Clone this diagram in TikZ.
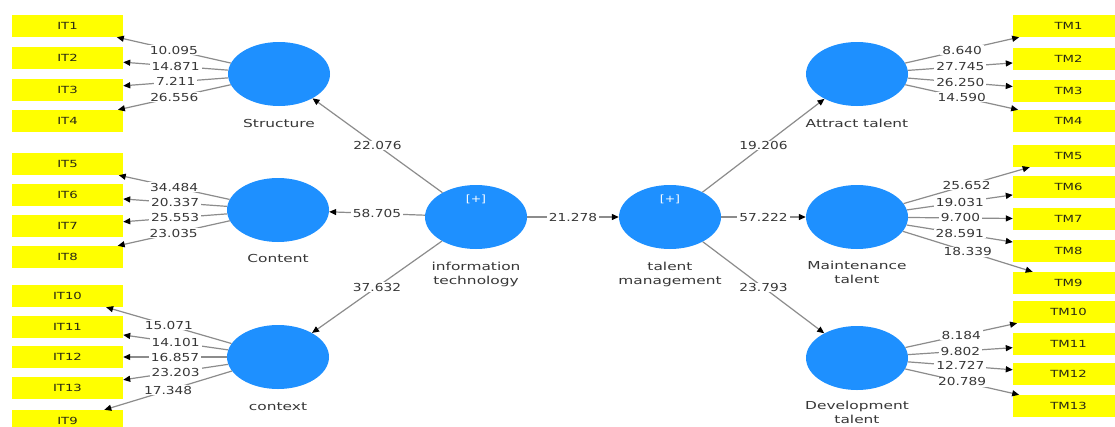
\documentclass[tikz,border=0pt]{standalone}
\usepackage{fontspec}
\setmainfont{DejaVu Sans}
\newfontfamily\numfont[FakeStretch=1.25]{DejaVu Sans}
\newfontfamily\namefont[FakeStretch=1.4]{DejaVu Sans}
\newfontfamily\boxfont[FakeStretch=1.35]{DejaVu Sans}
\usetikzlibrary{arrows.meta,shapes.geometric}
\definecolor{lvblue}{RGB}{30,144,255}
\definecolor{indyellow}{RGB}{255,255,0}
\definecolor{linegray}{RGB}{140,140,140}
\definecolor{txtgray}{RGB}{55,55,55}
\definecolor{boxtext}{RGB}{40,40,20}

\begin{document}
\begin{tikzpicture}[x=1pt,y=-1pt,
  latent/.style={ellipse, fill=lvblue, minimum width=102pt, minimum height=64pt, inner sep=0pt},
  indicator/.style={rectangle, fill=indyellow, minimum width=111pt, minimum height=22pt,
    inner sep=0pt, font=\boxfont\fontsize{9.8}{11}\selectfont, text=boxtext},
  conn/.style={draw=linegray, line width=1.2pt,
    -{Triangle[length=7pt,width=6pt,color=black]}},
  coef/.style={fill=white, inner xsep=2pt, inner ysep=0.8pt,
    font=\numfont\fontsize{11}{12}\selectfont, text=txtgray},
  lvname/.style={font=\namefont\fontsize{11}{14}\selectfont, text=txtgray, align=center},
  plus/.style={text=white, font=\numfont\fontsize{10}{11}\selectfont}]

\fill[white] (0,0) rectangle (1115,426);
\useasboundingbox (0,0) rectangle (1115,426);

% indicator boxes, left column
\foreach \n/\y in {IT1/26, IT2/58, IT3/90, IT4/121, IT5/164, IT6/195, IT7/226, IT8/257,
                   IT10/296, IT11/327, IT12/357, IT13/388, IT9/421}
  \node[indicator] (\n) at (67.5,\y) {\n};

% indicator boxes, right column
\foreach \n/\y in {TM1/26, TM2/59, TM3/91, TM4/121, TM5/156, TM6/187, TM7/219, TM8/251,
                   TM9/283, TM10/312, TM11/344, TM12/374, TM13/406}
  \node[indicator] (\n) at (1068.5,\y) {\n};

% latent variables
\node[latent] (S)  at (279,74)  {};
\node[latent] (C)  at (278,210) {};
\node[latent] (X)  at (278,357) {};
\node[latent] (IT) at (476,217) {};
\node[latent] (TM) at (670,217) {};
\node[latent] (AT) at (857,74)  {};
\node[latent] (MT) at (857,217) {};
\node[latent] (DT) at (857,358) {};

\node[plus] (ITplus) at (476,199) {[+]};
\node[plus] (TMplus) at (670,199) {[+]};

% latent variable names
\node[lvname] (Sname)  at (279,123)   {Structure};
\node[lvname] (Cname)  at (278,258)   {Content};
\node[lvname] (Xname)  at (278,407)   {context};
\node[lvname] (ITname) at (476,274.5) {information\\technology};
\node[lvname] (TMname) at (670,274.5) {talent\\management};
\node[lvname] (ATname) at (857,123)   {Attract talent};
\node[lvname] (MTname) at (857,272.5) {Maintenance\\talent};
\node[lvname] (DTname) at (857,412.5) {Development\\talent};

% structural paths
\draw[conn] (IT) -- node[coef] {22.076} (S);
\draw[conn] (IT) -- node[coef] {58.705} (C);
\draw[conn] (IT) -- node[coef] {37.632} (X);
\draw[conn] (IT) -- node[coef] {21.278} (TM);
\draw[conn] (TM) -- node[coef] {19.206} (AT);
\draw[conn] (TM) -- node[coef] {57.222} (MT);
\draw[conn] (TM) -- node[coef] {23.793} (DT);

% outer loadings, left side
\foreach \t/\v in {IT1/10.095, IT2/14.871, IT3/7.211, IT4/26.556}
  \draw[conn] (S) -- node[coef] {\v} (\t);
\foreach \t/\v in {IT5/34.484, IT6/20.337, IT7/25.553, IT8/23.035}
  \draw[conn] (C) -- node[coef] {\v} (\t);
\foreach \t/\v in {IT10/15.071, IT11/14.101, IT12/16.857, IT13/23.203, IT9/17.348}
  \draw[conn] (X) -- node[coef] {\v} (\t);

% outer loadings, right side
\foreach \t/\v in {TM1/8.640, TM2/27.745, TM3/26.250, TM4/14.590}
  \draw[conn] (AT) -- node[coef] {\v} (\t);
\foreach \t/\v in {TM5/25.652, TM6/19.031, TM7/9.700, TM8/28.591, TM9/18.339}
  \draw[conn] (MT) -- node[coef] {\v} (\t);
\foreach \t/\v in {TM10/8.184, TM11/9.802, TM12/12.727, TM13/20.789}
  \draw[conn] (DT) -- node[coef] {\v} (\t);

\end{tikzpicture}
\end{document}
